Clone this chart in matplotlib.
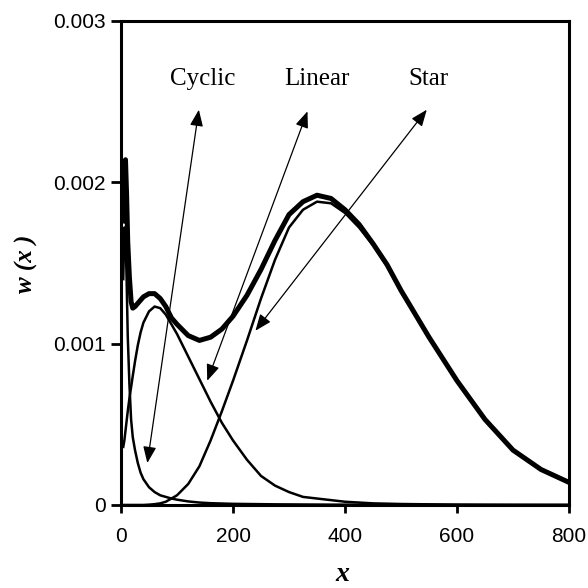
import matplotlib
matplotlib.use("Agg")
import matplotlib.pyplot as plt

# ---- data ----
x_vals = [4, 6, 8, 10, 12, 15, 18, 21, 25, 30, 35, 40, 50, 60, 70, 80, 90, 100,
          120, 140, 160, 180, 200, 225, 250, 275, 300, 325, 350, 375, 400, 425,
          450, 475, 500, 550, 600, 650, 700, 750, 800]

cyclic = [0.00140, 0.00172, 0.00168, 0.00140, 0.00105, 0.00075, 0.00053, 0.00042,
          0.00034, 0.00026, 0.00020, 0.00016, 0.00011, 0.00008, 0.00006, 0.00005,
          0.00004, 0.000033, 0.000022, 0.000015, 0.000011, 0.000009, 0.000007,
          0.000006, 0.000005, 0.000004, 0.0000035, 0.000003, 0.0000025, 0.000002,
          0.000002, 0.0000018, 0.0000016, 0.0000014, 0.0000012, 0.000001,
          0.0000009, 0.0000008, 0.0000007, 0.0000006, 0.0000005]

linear = [0.00036, 0.00040, 0.00046, 0.00052, 0.00058, 0.00066, 0.00073, 0.00080,
          0.00089, 0.00099, 0.00107, 0.00113, 0.00120, 0.00123, 0.00122, 0.00118,
          0.00112, 0.00106, 0.00092, 0.00078, 0.00064, 0.00051, 0.00040, 0.00028,
          0.00018, 0.00012, 0.00008, 0.00005, 0.00004, 0.00003, 0.00002, 0.000015,
          0.00001, 0.000008, 0.000006, 0.000004, 0.000002, 0.000001, 0.0000005,
          0.0000003, 0.0000002]

star = [0.0, 0.0, 0.0, 0.0, 0.0, 0.0, 0.0, 0.0, 0.0, 0.0, 0.0, 0.0, 0.000002,
        0.000005, 0.00001, 0.00002, 0.00004, 0.00006, 0.00013, 0.00024, 0.00040,
        0.00058, 0.00077, 0.00102, 0.00128, 0.00152, 0.00172, 0.00183, 0.00188,
        0.00187, 0.00181, 0.00172, 0.00161, 0.00148, 0.00132, 0.00104, 0.00077,
        0.00053, 0.00034, 0.00022, 0.00014]

total = [0.00176, 0.00212, 0.00214, 0.00192, 0.00163, 0.00141, 0.00126, 0.00122,
         0.00123, 0.00125, 0.00127, 0.00129, 0.00131, 0.00131, 0.00128, 0.00123,
         0.00116, 0.00112, 0.00105, 0.00102, 0.00104, 0.00109, 0.00117, 0.00130,
         0.00146, 0.00164, 0.00180, 0.00188, 0.00192, 0.00190, 0.00183, 0.00174,
         0.00162, 0.00149, 0.00133, 0.00104, 0.00077, 0.00053, 0.00034, 0.00022,
         0.00014]

labels = ["Cyclic", "Linear", "Star"]
label_pos = [(146, 0.00264), (349, 0.00264), (549, 0.00264)]
arrow_top = [(139, 0.00245), (333, 0.00244), (546, 0.00245)]
arrow_bottom = [(47, 0.00026), (154, 0.00077), (240, 0.00108)]

x_ticks = [0, 200, 400, 600, 800]
y_ticks = [0, 0.001, 0.002, 0.003]
y_ticklabels = ["0", "0.001", "0.002", "0.003"]

# ---- figure ----
fig = plt.figure(figsize=(5.88, 5.88), dpi=100)
ax = fig.add_axes([0.2058, 0.1412, 0.7619, 0.8231])

ax.plot(x_vals, cyclic, color="black", lw=1.8, solid_joinstyle="round")
ax.plot(x_vals, linear, color="black", lw=1.8)
ax.plot(x_vals, star, color="black", lw=1.8)
ax.plot(x_vals, total, color="black", lw=3.6, solid_joinstyle="round")

for lab, lp, at, ab in zip(labels, label_pos, arrow_top, arrow_bottom):
    ax.text(lp[0], lp[1], lab, ha="center", va="center",
            family="Liberation Serif", fontsize=18)
    ax.annotate("", xy=ab, xytext=at,
                arrowprops=dict(arrowstyle="<|-|>,head_length=1.0,head_width=0.4",
                                color="black", lw=0.9,
                                shrinkA=0, shrinkB=0))

ax.set_xlim(0, 800)
ax.set_ylim(0, 0.003)
ax.set_xticks(x_ticks)
ax.set_xticklabels([str(v) for v in x_ticks])
ax.set_yticks(y_ticks)
ax.set_yticklabels(y_ticklabels)
for lab in ax.get_xticklabels() + ax.get_yticklabels():
    lab.set_family("Liberation Sans")
    lab.set_fontsize(15)
ax.tick_params(direction="out", length=7, width=2, pad=4)
ax.tick_params(axis="x", length=6, pad=10)
for sp in ax.spines.values():
    sp.set_linewidth(2.2)

fig.text(342 / 588, 1 - 581 / 588, "x", family="Liberation Serif",
         fontweight="bold", fontstyle="italic", fontsize=20,
         ha="center", va="baseline")
fig.text(26 / 588, 1 - 264 / 588, "w (x )", family="Liberation Serif",
         fontweight="bold", fontstyle="italic", fontsize=18,
         ha="center", va="center", rotation=90)

fig.savefig("out.png", dpi=100, facecolor="white")
